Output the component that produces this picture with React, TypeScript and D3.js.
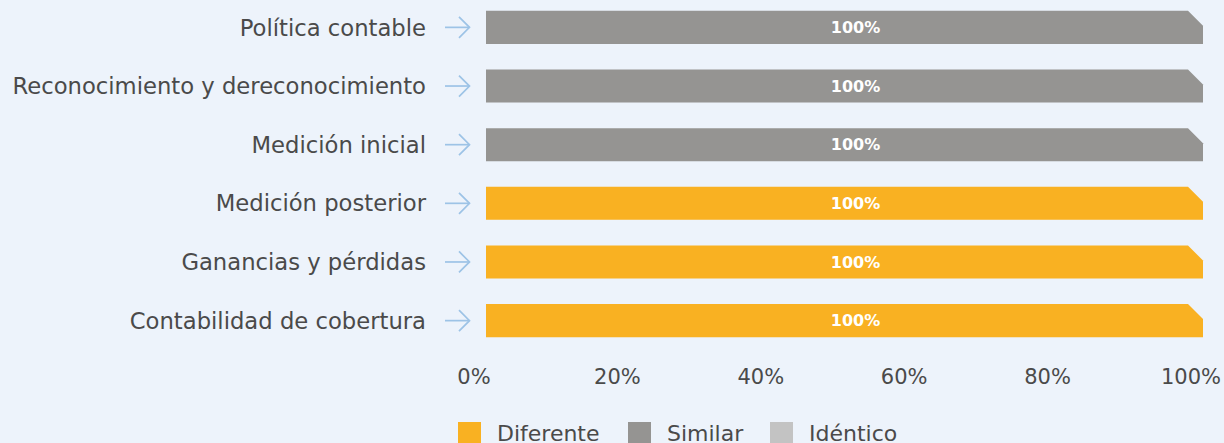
import React, { useEffect, useRef } from "react";
import * as d3 from "d3";

const categories = [
  "Política contable",
  "Reconocimiento y dereconocimiento",
  "Medición inicial",
  "Medición posterior",
  "Ganancias y pérdidas",
  "Contabilidad de cobertura",
];
const values = [100, 100, 100, 100, 100, 100];
const kinds = ["Similar", "Similar", "Similar", "Diferente", "Diferente", "Diferente"];
const ticks = [0, 20, 40, 60, 80, 100];
const legendItems = ["Diferente", "Similar", "Idéntico"];
const legendColors = ["#F9B122", "#959492", "#C3C3C3"];

const W = 1224;
const H = 443;
const FONT = "'DejaVu Sans', sans-serif";

const App = () => {
  const ref = useRef<SVGSVGElement>(null);

  useEffect(() => {
    const svg = d3.select(ref.current);
    svg.selectAll("*").remove();

    const x = d3.scaleLinear().domain([0, 100]).range([486, 1203]);
    const y = d3.scaleBand().domain(categories).range([5, 343]).paddingInner(0.437).paddingOuter(0.1);
    const color = d3.scaleOrdinal<string>().domain(legendItems).range(legendColors);

    svg.append("rect").attr("width", W).attr("height", H).attr("fill", "#EDF3FB");

    // bars with a clipped top-right corner
    const notch = 15;
    const rows = svg.selectAll("g.row").data(categories).enter().append("g").attr("class", "row");

    rows.append("path")
      .attr("fill", (d, i) => color(kinds[i]))
      .attr("d", (d, i) => {
        const x0 = x(0), x1 = x(values[i]);
        const y0 = y(d)!, y1 = y0 + y.bandwidth();
        const p = d3.path();
        p.moveTo(x0, y0);
        p.lineTo(x1 - notch, y0);
        p.lineTo(x1, y0 + notch);
        p.lineTo(x1, y1);
        p.lineTo(x0, y1);
        p.closePath();
        return p.toString();
      });

    rows.append("text")
      .attr("x", (d, i) => x(values[i] / 2) + 11)
      .attr("y", (d) => y(d)! + y.bandwidth() / 2)
      .attr("dy", "0.36em")
      .attr("text-anchor", "middle")
      .attr("fill", "#ffffff")
      .style("font-family", FONT)
      .style("font-weight", "bold")
      .style("font-size", "16px")
      .text((d, i) => values[i] + "%");

    // category labels
    rows.append("text")
      .attr("x", 426)
      .attr("y", (d) => y(d)! + y.bandwidth() / 2)
      .attr("dy", "0.36em")
      .attr("text-anchor", "end")
      .attr("fill", "#4A4A4A")
      .style("font-family", FONT)
      .style("font-size", "22.7px")
      .text((d) => d);

    // arrows
    const arrows = rows.append("g")
      .attr("transform", (d) => `translate(445,${y(d)! + y.bandwidth() / 2})`)
      .attr("stroke", "#9DC3E6")
      .attr("stroke-width", 1.7)
      .attr("fill", "none");
    arrows.append("line").attr("x1", 0).attr("x2", 24.5).attr("y1", 0).attr("y2", 0);
    arrows.append("path").attr("d", "M14,-10.5L24.5,0L14,10.5");

    // x axis labels
    svg.append("g").selectAll("text").data(ticks).enter().append("text")
      .attr("x", (d) => x(d) - 12)
      .attr("y", 376)
      .attr("dy", "0.36em")
      .attr("text-anchor", "middle")
      .attr("fill", "#4A4A4A")
      .style("font-family", FONT)
      .style("font-size", "21px")
      .text((d) => d + "%");

    // legend (cut by the bottom edge, as in the source)
    const legendX = [458, 628, 770];
    const lg = svg.append("g").selectAll("g").data(legendItems).enter().append("g")
      .attr("transform", (d, i) => `translate(${legendX[i]},422)`);
    lg.append("rect").attr("width", 23).attr("height", 23).attr("fill", (d) => color(d));
    lg.append("text")
      .attr("x", 39)
      .attr("y", 19)
      .attr("fill", "#4A4A4A")
      .style("font-family", FONT)
      .style("font-size", "22px")
      .text((d) => d);
  }, []);

  return (
    <svg ref={ref} width={W} height={H} style={{ position: "absolute", left: 0, top: 0 }} />
  );
};

export default App;
